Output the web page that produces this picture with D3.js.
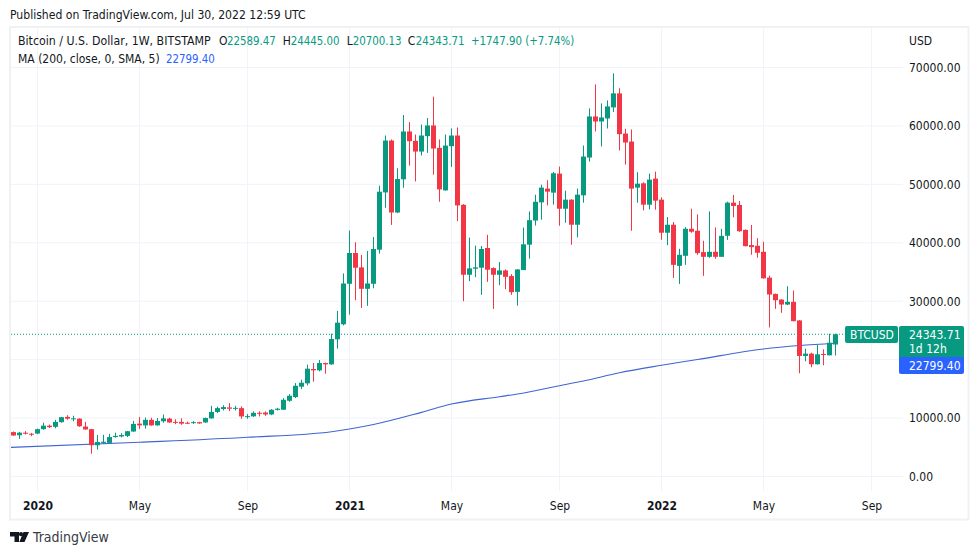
<!DOCTYPE html>
<html>
<head>
<meta charset="utf-8">
<script src="https://cdnjs.cloudflare.com/ajax/libs/d3/7.8.5/d3.min.js"></script>
<style>
    html, body { margin: 0; padding: 0; background: #fff; }
    svg { display: block; }
    text { font-family: "DejaVu Sans", sans-serif; font-stretch: condensed; font-size: 12px; fill: #131722; }
</style>
</head>
<body>
<svg id="chart" width="979" height="555"></svg>
<script>
// weekly candles, Dec 9 2019 to Jul 25 2022
const firstWeek = "2019-12-09";

const candleOpen = [
    7600, 7060, 7500, 7320, 7350, 8100, 8700, 8500, 9300, 10200,
    9900, 9900, 8550, 8100, 5350, 5750, 5750, 6750, 6850, 6950,
    7700, 9050, 8750, 9700, 8750, 9450, 9900, 9350, 9350, 9200,
    9150, 9300, 9250, 9950, 11050, 11550, 11820, 11650, 11700, 10240,
    10300, 10900, 10950, 10620, 11400, 11430, 12960, 13600, 15370, 15940,
    18400, 18170, 19420, 19200, 23480, 26050, 32980, 38250, 35790, 32120,
    32980, 38820, 48620, 57500, 45180, 50860, 59050, 57450, 55610, 58250,
    60080, 56240, 48970, 56530, 58360, 46500, 34530, 35560, 35730, 39110,
    35670, 34530, 35270, 34300, 31600, 35330, 39680, 43810, 46920, 49270,
    48580, 51840, 45830, 47380, 43090, 48120, 54590, 61620, 60760, 61280,
    63170, 65570, 58700, 57330, 49440, 50180, 46520, 50980, 47380, 41720,
    43090, 36050, 37770, 42400, 42060, 38400, 37600, 38460, 37600, 41200,
    46870, 46470, 42210, 39600, 39490, 38460, 34030, 31250, 30280, 29430,
    29890, 26710, 20630, 21030, 19210, 20970, 20740, 22589.47
];
const candleHigh = [
    7700, 7650, 7770, 7450, 8200, 9200, 8900, 9700, 10200, 10500,
    10400, 9950, 9350, 8150, 7100, 7150, 7300, 7500, 7400, 7800,
    9500, 10200, 10100, 10050, 10000, 10600, 10050, 9800, 9950, 9400,
    9480, 9350, 10100, 12100, 11950, 12200, 12560, 12100, 12000, 10680,
    11150, 11150, 11150, 11530, 11760, 13420, 14100, 15990, 16560, 19140,
    19420, 19930, 19480, 24450, 28330, 34760, 42090, 40090, 37900, 38600,
    41000, 49770, 58360, 57680, 52750, 61860, 60650, 58530, 60250, 61340,
    65010, 57680, 58530, 59570, 59740, 46620, 40890, 39510, 39450, 41350,
    35800, 36700, 35440, 34640, 35500, 42600, 45360, 48220, 49950, 50700,
    52130, 53040, 48920, 47450, 49270, 56650, 63000, 67110, 63850, 64370,
    69000, 66430, 59510, 59390, 52070, 50350, 51840, 52180, 47780, 44400,
    43550, 38970, 42690, 45830, 44860, 40340, 45380, 42630, 42380, 47040,
    48180, 47150, 42280, 43060, 40790, 40170, 34370, 31300, 30350, 32560,
    31820, 26750, 21880, 21200, 22500, 21770, 24430, 24445
];
const candleLow = [
    6950, 6450, 7190, 6900, 7250, 8000, 8300, 8250, 9200, 9700,
    9450, 8500, 8000, 3900, 4600, 5600, 5700, 6650, 6700, 6750,
    7650, 8150, 8200, 8700, 8700, 9200, 9200, 8950, 8850, 9000,
    9000, 9020, 9200, 9900, 10850, 11300, 11200, 11300, 9880, 9880,
    10200, 10280, 10400, 10500, 11300, 11380, 12790, 13420, 14960, 15600,
    16220, 18000, 17600, 19100, 21880, 25870, 27700, 30170, 28850, 29200,
    32230, 38140, 45990, 43060, 45070, 49420, 53210, 50510, 54930, 55380,
    51660, 47020, 48910, 52980, 43700, 30000, 33440, 34130, 31090, 33320,
    28680, 32750, 32060, 31090, 29250, 35330, 37280, 42950, 43950, 46400,
    46520, 42920, 43430, 39660, 40920, 46860, 53900, 59050, 56470, 59560,
    62370, 55790, 53380, 42060, 46860, 45550, 45720, 45660, 40510, 39600,
    33990, 32960, 36220, 41720, 37940, 34340, 37430, 37260, 37600, 40500,
    44370, 41870, 39370, 37950, 37440, 33860, 25510, 28690, 28010, 29320,
    26540, 17670, 19720, 18700, 19150, 19040, 20740, 20700.13
];
const candleClose = [
    7020, 7500, 7320, 7200, 8100, 8700, 8450, 9350, 10150, 9900,
    9950, 8600, 8050, 5350, 5900, 5950, 6750, 6950, 7100, 7750,
    9000, 8750, 9700, 8750, 9500, 9950, 9250, 9250, 9050, 9080,
    9300, 9080, 10000, 11050, 11700, 11880, 11600, 11750, 10280, 10330,
    10900, 10730, 10620, 11420, 11600, 13130, 13820, 15530, 16050, 18450,
    18170, 19420, 19200, 23530, 26330, 33040, 38250, 35730, 32120, 33040,
    38940, 48740, 57500, 45180, 50910, 59050, 57390, 55610, 58360, 60080,
    56130, 49140, 56640, 58360, 46390, 34530, 35620, 35790, 38940, 35390,
    34530, 35270, 34180, 31550, 35440, 39740, 43870, 47020, 49440, 48750,
    51900, 45830, 47380, 43090, 48240, 54760, 61620, 60760, 61450, 63340,
    65570, 58590, 57160, 49270, 50120, 46520, 50810, 47210, 41720, 43090,
    36220, 37940, 42400, 41890, 38230, 37600, 38460, 37600, 41190, 46870,
    46300, 41980, 39430, 39260, 38290, 33920, 31140, 30170, 29430, 29890,
    26590, 20630, 21030, 19210, 20910, 20850, 22900, 24343.71
];

// 200 week SMA, read at these dates
const maDates = [
    "2019-12-02", "2020-05-04", "2020-09-07", "2020-12-14", "2021-01-04", "2021-02-01",
    "2021-03-29", "2021-05-03", "2021-06-28", "2021-07-19", "2021-09-06", "2021-10-04",
    "2021-11-15", "2022-01-03", "2022-02-14", "2022-05-02", "2022-06-13", "2022-07-25"
];
const maValues = [
    4960, 5850, 6710, 7660, 8130, 8900,
    10980, 12400, 13650, 14120, 15540, 16340,
    17760, 19030, 20020, 21820, 22410, 22799.4
];

const priceTicks = [0, 10000, 20000, 30000, 40000, 50000, 60000, 70000];
// the 20000 label sits under the price tags in the picture, so it has no text
const priceLabels = [0, 10000, 30000, 40000, 50000, 60000, 70000];
const timeTicks = ["2020-01-06", "2020-05-04", "2020-09-07", "2021-01-04", "2021-05-03", "2021-09-06", "2022-01-03", "2022-05-02", "2022-09-05"];
const timeLabels = ["2020", "May", "Sep", "2021", "May", "Sep", "2022", "May", "Sep"];

const legendKeys = ["O", "H", "L", "C"];
const legendValues = ["22589.47", "24445.00", "20700.13", "24343.71"];
const lastPrice = 24343.71;
const lastMa = 22799.40;

const green = "#089981", red = "#f23645", blue = "#2962ff", grid = "#f0f3fa";
const parseDay = d3.utcParse("%Y-%m-%d");

const svg = d3.select("#chart");

// scales are pinned on the gridlines of the picture
const x = d3.scaleUtc()
    .domain([parseDay("2020-01-06"), parseDay("2022-09-05")])
    .range([37.5, 871.5]);
const y = d3.scaleLinear().domain([0, 70000]).range([476.5, 67.5]);

const weeks = d3.utcMonday.range(parseDay(firstWeek), d3.utcDay.offset(parseDay("2022-07-25"), 1));
const candles = weeks.map((date, i) => ({
    date: date,
    open: candleOpen[i],
    high: candleHigh[i],
    low: candleLow[i],
    close: candleClose[i]
}));

// page text and frame
svg.append("text").attr("x", 10).attr("y", 19).style("font-size", "12.1px").text("Published on TradingView.com, Jul 30, 2022 12:59 UTC");
svg.append("rect")
    .attr("x", 10).attr("y", 27).attr("width", 958.5).attr("height", 492.5)
    .attr("fill", "#fff").attr("stroke", "#eff1f5").attr("stroke-width", 2);

// gridlines
svg.append("g").selectAll("line").data(priceTicks).enter().append("line")
    .attr("x1", 11).attr("x2", 903)
    .attr("y1", d => y(d)).attr("y2", d => y(d))
    .attr("stroke", grid);
svg.append("g").selectAll("line").data(timeTicks).enter().append("line")
    .attr("x1", d => x(parseDay(d))).attr("x2", d => x(parseDay(d)))
    .attr("y1", 28).attr("y2", 491)
    .attr("stroke", grid);

// axes
const priceAxis = svg.append("g")
    .attr("transform", "translate(900,0)")
    .call(d3.axisRight(y).tickValues(priceLabels).tickSize(0).tickPadding(9).tickFormat(d3.format(".2f")));
priceAxis.select(".domain").remove();

const timeAxis = svg.append("g")
    .attr("transform", "translate(0,495)")
    .call(d3.axisBottom(x)
        .tickValues(timeTicks.map(parseDay))
        .tickSize(0)
        .tickPadding(6)
        .tickFormat((d, i) => timeLabels[i]));
timeAxis.select(".domain").remove();
timeAxis.selectAll("text")
    .style("font-weight", (d, i) => /^\d/.test(timeLabels[i]) ? 700 : 400);

// keep d3's axis group font settings from winning over the page font
svg.selectAll("g").attr("font-family", null).attr("font-size", null);

// last price dotted line
svg.append("line")
    .attr("x1", 11).attr("x2", 845)
    .attr("y1", y(lastPrice)).attr("y2", y(lastPrice))
    .attr("stroke", green).attr("stroke-width", 1).attr("stroke-dasharray", "1 2");

// MA
const maLine = d3.line()
    .x((d, i) => x(parseDay(maDates[i])))
    .y(d => y(d))
    .curve(d3.curveMonotoneX);
svg.append("clipPath").attr("id", "plotClip").append("rect")
    .attr("x", 11).attr("y", 28).attr("width", 890).attr("height", 466);
svg.append("path")
    .datum(maValues)
    .attr("clip-path", "url(#plotClip)")
    .attr("d", maLine)
    .attr("fill", "none")
    .attr("stroke", "#3f65d0")
    .attr("stroke-width", 1.1);

// candles
const candle = svg.append("g").selectAll("g").data(candles).enter().append("g")
    .attr("fill", d => d.close >= d.open ? green : red)
    .attr("stroke", d => d.close >= d.open ? green : red);
candle.append("line")
    .attr("x1", d => x(d.date)).attr("x2", d => x(d.date))
    .attr("y1", d => y(d.high)).attr("y2", d => y(d.low))
    .attr("stroke-width", 1);
candle.append("rect")
    .attr("x", d => x(d.date) - 2.5)
    .attr("width", 5)
    .attr("y", d => y(Math.max(d.open, d.close)))
    .attr("height", d => Math.max(1, Math.abs(y(d.open) - y(d.close))))
    .attr("stroke", "none");

// legend
svg.append("text").attr("x", 18).attr("y", 45).style("font-size", "12.25px").text("Bitcoin / U.S. Dollar, 1W, BITSTAMP");
const keyX = [219, 282.7, 346.7, 407.7];
const valueX = [227, 290.7, 352.7, 415.7];
legendKeys.forEach((k, i) => {
    svg.append("text").attr("x", keyX[i]).attr("y", 45).text(k);
    svg.append("text").attr("x", valueX[i]).attr("y", 45)
        .style("fill", green).style("font-size", "11.4px").text(legendValues[i]);
});
svg.append("text").attr("x", 471).attr("y", 45)
    .style("fill", green).style("font-size", "11.4px").text("+1747.90 (+7.74%)");

svg.append("text").attr("x", 18).attr("y", 63).text("MA (200, close, 0, SMA, 5)");
svg.append("text").attr("x", 166).attr("y", 63)
    .style("fill", blue).style("font-size", "11.4px").text(d3.format(".2f")(lastMa));

svg.append("text").attr("x", 909).attr("y", 45).text("USD");

// last price labels
const tags = svg.append("g");
tags.append("rect").attr("x", 845).attr("y", 326).attr("width", 53).attr("height", 17).attr("rx", 2).attr("fill", green);
tags.append("text").attr("x", 850).attr("y", 339).style("fill", "#fff").text("BTCUSD");
tags.append("path")
    .attr("d", "M901 326h61a2 2 0 0 1 2 2v29h-65v-29a2 2 0 0 1 2-2z")
    .attr("fill", green);
tags.append("path")
    .attr("d", "M899 357h65v15a2 2 0 0 1-2 2h-61a2 2 0 0 1-2-2z")
    .attr("fill", blue);
tags.append("text").attr("x", 909).attr("y", 339).style("fill", "#fff").text(d3.format(".2f")(lastPrice));
tags.append("text").attr("x", 909).attr("y", 353).style("fill", "#fff").text("1d 12h");
tags.append("text").attr("x", 909).attr("y", 370).style("fill", "#fff").text(d3.format(".2f")(lastMa));

// logo
svg.append("path")
    .attr("d", "M10 532h9v10h-4.5v-5.5h-4.5z M24.5 542h-5.2l4.2-10h5.5z")
    .attr("fill", "#131722");
svg.append("circle").attr("cx", 21).attr("cy", 534.2).attr("r", 2.1).attr("fill", "#131722");
svg.append("text").attr("x", 33).attr("y", 542).style("font-size", "14px").style("fill", "#363a45").text("TradingView");
</script>
</body>
</html>
